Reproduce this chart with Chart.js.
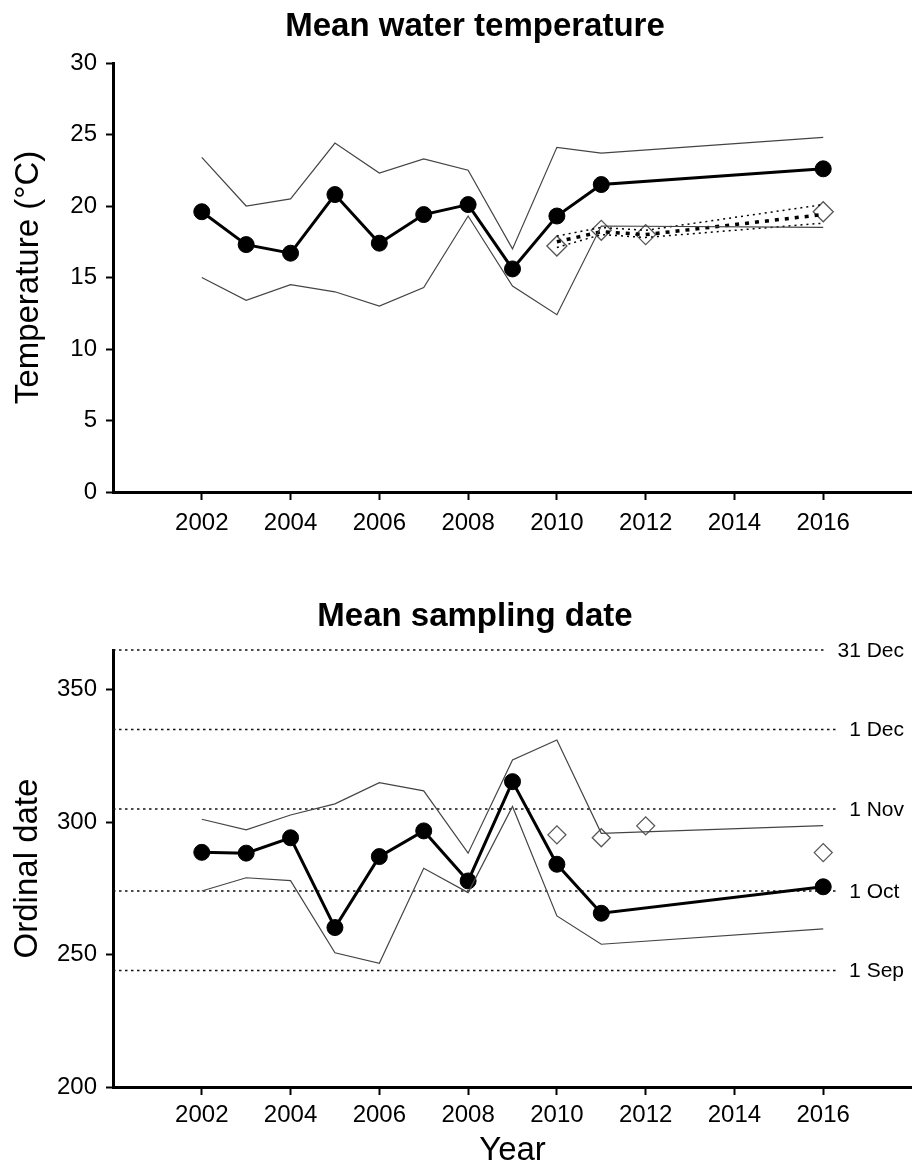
<!DOCTYPE html>
<html>
<head>
<meta charset="utf-8">
<script src="https://cdn.jsdelivr.net/npm/chart.js@4.4.0/dist/chart.umd.min.js"></script>
<style>
html, body { margin: 0; padding: 0; background: #fff; overflow: hidden; }
#temp { position: absolute; left: 0; top: 0; }
#date { position: absolute; left: 0; top: 570px; }
</style>
</head>
<body>
<canvas id="temp" width="912" height="570"></canvas>
<canvas id="date" width="912" height="596"></canvas>
<script>
// years with a mean value, and years of the second (open diamond) series
var years = [2002, 2003, 2004, 2005, 2006, 2007, 2008, 2009, 2010, 2011, 2016];
var altYears = [2010, 2011, 2012, 2016];
var xTicks = [2002, 2004, 2006, 2008, 2010, 2012, 2014, 2016];

// mean water temperature (°C)
var tempMean  = [19.6, 17.3, 16.7, 20.8, 17.4, 19.4, 20.1, 15.6, 19.3, 21.5, 22.6];
var tempUpper = [23.4, 20.0, 20.5, 24.4, 22.3, 23.3, 22.5, 17.0, 24.1, 23.7, 24.8];
var tempLower = [15.0, 13.4, 14.5, 14.0, 13.0, 14.3, 19.3, 14.4, 12.4, 18.6, 18.5];
var tempAlt      = [17.2, 18.3, 18.0, 19.6];
var tempAltMean  = [17.5, 18.2, 18.0, 19.4];
var tempAltUpper = [17.9, 18.5, 18.3, 20.1];
var tempAltLower = [17.1, 18.0, 17.8, 18.8];
var tempTicks = [0, 5, 10, 15, 20, 25, 30];

// mean sampling date (ordinal day)
var dateMean  = [288.6, 288.3, 294.1, 260.2, 287.0, 296.7, 277.8, 315.3, 284.1, 265.6, 275.6];
var dateUpper = [301.1, 297.1, 302.7, 306.9, 314.9, 311.8, 288.3, 323.5, 331.0, 295.8, 298.7];
var dateLower = [274.0, 279.0, 277.9, 250.7, 246.7, 282.6, 273.4, 305.9, 264.6, 253.9, 259.7];
var dateAlt   = [295.2, 294.1, 298.6, 288.5];
var dateTicks = [200, 250, 300, 350];

// month reference lines
var refDays  = [365, 335, 305, 274, 244];
var refNames = ['31 Dec', '1 Dec', '1 Nov', '1 Oct', '1 Sep'];

var FONT = '"Liberation Sans", Arial, Helvetica, sans-serif';
Chart.defaults.font.family = FONT;
Chart.defaults.color = '#000';

function xy(xs, ys) {
    return xs.map(function (x, i) { return {x: x, y: ys[i]}; });
}

function thin(xs, ys) {
    return {data: xy(xs, ys), borderColor: '#444', borderWidth: 1.2, pointRadius: 0, fill: false};
}

function xAxis(height, pad, title) {
    return {
        type: 'linear', min: 2000, max: 2018,
        afterBuildTicks: function (s) { s.ticks = xTicks.map(function (v) { return {value: v}; }); },
        afterFit: function (s) { s.height = height; },
        ticks: {font: {size: 24}, padding: pad, maxRotation: 0, autoSkip: false,
                callback: function (v) { return String(v); }},
        grid: {drawOnChartArea: false, tickLength: 8, tickWidth: 2, tickColor: '#000'},
        border: {color: '#000', width: 3},
        title: title ? {display: true, text: title, font: {size: 33, lineHeight: 0.9}, padding: {top: 0, bottom: 0}}
                     : {display: false}
    };
}

function yAxis(min, max, ticks, title, tpad) {
    return {
        type: 'linear', min: min, max: max,
        afterBuildTicks: function (s) { s.ticks = ticks.map(function (v) { return {value: v}; }); },
        afterFit: function (s) { s.width = 113; },
        ticks: {font: {size: 24}, padding: 9, callback: function (v) { return String(v); }},
        grid: {drawOnChartArea: false, tickLength: 7, tickWidth: 2, tickColor: '#000'},
        border: {color: '#000', width: 3},
        title: {display: true, text: title, font: {size: 33}, padding: {top: tpad, bottom: 0}}
    };
}

// chart title, a little right of the canvas centre like in the figure
var headTitle = {
    id: 'headTitle',
    afterDraw: function (chart, args, opts) {
        var ctx = chart.ctx;
        ctx.save();
        ctx.font = 'bold 33px ' + FONT;
        ctx.fillStyle = '#000';
        ctx.textAlign = 'center';
        ctx.textBaseline = 'middle';
        ctx.fillText(opts.text, chart.width / 2 + 19, opts.y);
        ctx.restore();
    }
};

new Chart('temp', {
    type: 'line',
    data: {
        datasets: [
            thin(years, tempUpper),
            thin(years, tempLower),
            {data: xy(altYears, tempAltUpper), borderColor: '#000', borderWidth: 1.5, borderDash: [2, 4], pointRadius: 0},
            {data: xy(altYears, tempAltLower), borderColor: '#000', borderWidth: 1.5, borderDash: [2, 4], pointRadius: 0},
            {data: xy(altYears, tempAltMean), borderColor: '#000', borderWidth: 3.5, borderDash: [4, 6], pointRadius: 0},
            {data: xy(years, tempMean), borderColor: '#000', borderWidth: 3,
             pointRadius: 8, pointBackgroundColor: '#000', pointBorderColor: '#000', pointBorderWidth: 1},
            {data: xy(altYears, tempAlt), showLine: false, pointStyle: 'rectRot', pointRadius: 10,
             pointBackgroundColor: '#fff', pointBorderColor: '#555', pointBorderWidth: 1.3}
        ]
    },
    options: {
        responsive: false,
        animation: false,
        layout: {padding: {top: 63, left: 0, right: 0, bottom: 0}, autoPadding: false},
        scales: {
            x: xAxis(78, 8.6, null),
            y: yAxis(0, 30, tempTicks, 'Temperature (°C)', 9)
        },
        plugins: {
            legend: {display: false},
            tooltip: {enabled: false},
            headTitle: {text: 'Mean water temperature', y: 27}
        }
    },
    plugins: [headTitle]
});

var refLines = {
    id: 'refLines',
    labelStart: function (ctx, area, i) {
        var w = ctx.measureText(refNames[i]).width;
        var base = ctx.measureText(refNames[1]).width;
        return area.right - 8 - Math.max(w, base);
    },
    beforeDatasetsDraw: function (chart) {
        var ctx = chart.ctx, area = chart.chartArea, y = chart.scales.y, self = this;
        ctx.save();
        ctx.font = '21px ' + FONT;
        ctx.strokeStyle = '#111';
        ctx.lineWidth = 1.5;
        ctx.setLineDash([2.5, 3.5]);
        refDays.forEach(function (d, i) {
            var py = y.getPixelForValue(d);
            ctx.beginPath();
            ctx.moveTo(area.left, py);
            ctx.lineTo(self.labelStart(ctx, area, i) - 11, py);
            ctx.stroke();
        });
        ctx.restore();
    },
    afterDraw: function (chart) {
        var ctx = chart.ctx, area = chart.chartArea, y = chart.scales.y, self = this;
        ctx.save();
        ctx.font = '21px ' + FONT;
        ctx.fillStyle = '#000';
        ctx.textAlign = 'left';
        ctx.textBaseline = 'middle';
        refDays.forEach(function (d, i) {
            ctx.fillText(refNames[i], self.labelStart(ctx, area, i), y.getPixelForValue(d) + 1);
        });
        ctx.restore();
    }
};

new Chart('date', {
    type: 'line',
    data: {
        datasets: [
            thin(years, dateUpper),
            thin(years, dateLower),
            {data: xy(years, dateMean), borderColor: '#000', borderWidth: 3,
             pointRadius: 8, pointBackgroundColor: '#000', pointBorderColor: '#000', pointBorderWidth: 1},
            {data: xy(altYears, dateAlt), showLine: false, pointStyle: 'rectRot', pointRadius: 9,
             pointBackgroundColor: '#fff', pointBorderColor: '#555', pointBorderWidth: 1.3}
        ]
    },
    options: {
        responsive: false,
        animation: false,
        layout: {padding: {top: 80, left: 0, right: 0, bottom: 0}, autoPadding: false},
        scales: {
            x: xAxis(79, 5.6, 'Year'),
            y: yAxis(200, 365, dateTicks, 'Ordinal date', 8)
        },
        plugins: {
            legend: {display: false},
            tooltip: {enabled: false},
            headTitle: {text: 'Mean sampling date', y: 47}
        }
    },
    plugins: [headTitle, refLines]
});
</script>
</body>
</html>
